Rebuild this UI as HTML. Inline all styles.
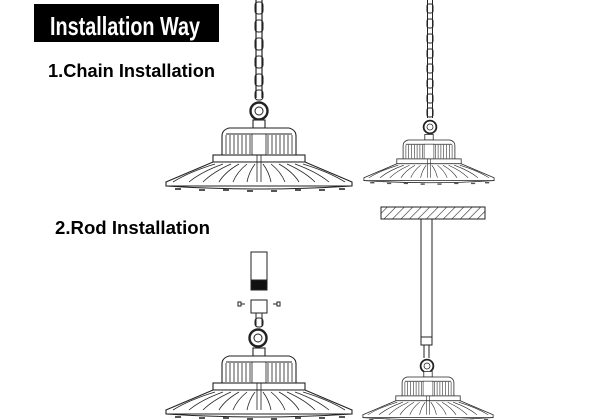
<!DOCTYPE html>
<html><head><meta charset="utf-8"><style>
html,body{margin:0;padding:0;background:#fff;width:600px;height:420px;overflow:hidden}
svg{display:block}
</style></head><body>
<svg width="600" height="420" viewBox="0 0 600 420" xmlns="http://www.w3.org/2000/svg">
<defs>
<pattern id="hatch" width="6" height="6" patternUnits="userSpaceOnUse" patternTransform="rotate(45)">
<line x1="0" y1="0" x2="0" y2="6" stroke="#222" stroke-width="1.2"/>
</pattern>
<g id="lamp" fill="#fff" stroke="#222" stroke-width="1.1">
  <rect x="-6" y="-8" width="12" height="8"/>
  <path d="M-30,0 L30,0 Q37,2 37,8 L37,27 L-37,27 L-37,8 Q-37,2 -30,0 Z"/>
  <path d="M-33,6 L33,6" />
  <g stroke-width="0.8">
    <path d="M-33,7 V26 M-29,7 V26 M-25,7 V26 M-21,7 V26 M-17,7 V26 M-13,7 V26 M-9,7 V26 M-5,7 V26 M5,7 V26 M9,7 V26 M13,7 V26 M17,7 V26 M21,7 V26 M25,7 V26 M29,7 V26 M33,7 V26"/>
    <rect x="-7" y="6" width="14" height="21"/>
  </g>
  <rect x="-46" y="27" width="92" height="7"/>
  <path d="M-46,34 L46,34 L93,54 L93,58 L-93,58 L-93,54 Z"/>
  <g stroke-width="0.8" fill="none">
    <path d="M-44,36 Q-70,44 -86,54 M-36,36 Q-58,44 -70,54 M-28,36 Q-46,44 -56,54 M-20,36 Q-34,44 -40,54 M-12,36 Q-22,44 -26,54 M-4,36 Q-10,44 -12,54 M44,36 Q70,44 86,54 M36,36 Q58,44 70,54 M28,36 Q46,44 56,54 M20,36 Q34,44 40,54 M12,36 Q22,44 26,54 M4,36 Q10,44 12,54"/>
    <path d="M-2,27 V54 M2,27 V54"/>
  </g>
  <path d="M-93,58 Q0,64 93,58" fill="none"/>
  <g fill="#555" stroke="none">
    <rect x="-84" y="60" width="6" height="2"/><rect x="-60" y="61" width="6" height="2"/><rect x="-36" y="61" width="6" height="2"/><rect x="-12" y="62" width="6" height="2"/><rect x="12" y="62" width="6" height="2"/><rect x="36" y="61" width="6" height="2"/><rect x="60" y="61" width="6" height="2"/><rect x="80" y="60" width="6" height="2"/>
  </g>
</g>
<g id="ring" fill="none" stroke="#222">
  <circle r="8.5" stroke-width="2.4"/>
  <circle r="4" stroke-width="1"/>
</g>
</defs>

<rect x="34" y="4" width="185" height="38" fill="#000"/>
<text x="50" y="35" font-family="Liberation Sans, sans-serif" font-weight="bold" font-size="26" fill="#fff" textLength="150" lengthAdjust="spacingAndGlyphs">Installation Way</text>
<text x="48" y="77" font-family="Liberation Sans, sans-serif" font-weight="bold" font-size="18" fill="#000" textLength="167" lengthAdjust="spacingAndGlyphs">1.Chain Installation</text>
<text x="55" y="234" font-family="Liberation Sans, sans-serif" font-weight="bold" font-size="18" fill="#000" textLength="155" lengthAdjust="spacingAndGlyphs">2.Rod Installation</text>

<!-- chain 1 -->
<g fill="none" stroke="#222" stroke-width="1.2">
  <path d="M256,0 V98 M262,0 V98"/>
  <g stroke-width="1">
    <rect x="255" y="2" width="8" height="12" rx="3"/><rect x="255" y="20" width="8" height="12" rx="3"/><rect x="255" y="38" width="8" height="12" rx="3"/><rect x="255" y="56" width="8" height="12" rx="3"/><rect x="255" y="74" width="8" height="12" rx="3"/><rect x="255" y="90" width="8" height="10" rx="3"/>
  </g>
</g>
<use href="#ring" x="259" y="111"/>
<use href="#lamp" x="259" y="128"/>

<!-- chain 2 -->
<g fill="none" stroke="#222" stroke-width="1">
  <path d="M427.5,0 V118 M432.5,0 V118"/>
  <rect x="427" y="4" width="6" height="9" rx="2"/><rect x="427" y="19" width="6" height="9" rx="2"/><rect x="427" y="34" width="6" height="9" rx="2"/><rect x="427" y="49" width="6" height="9" rx="2"/><rect x="427" y="64" width="6" height="9" rx="2"/><rect x="427" y="79" width="6" height="9" rx="2"/><rect x="427" y="94" width="6" height="9" rx="2"/><rect x="427" y="108" width="6" height="9" rx="2"/>
</g>
<use href="#ring" transform="translate(430,127) scale(0.75)"/>
<use href="#lamp" transform="translate(429,140) scale(0.7)"/>

<!-- rod install left -->
<g stroke="#222" fill="#fff" stroke-width="1">
  <rect x="251" y="252" width="16" height="28"/>
  <rect x="251" y="280" width="16" height="10" fill="#111"/>
  <rect x="251" y="300" width="16" height="13"/>
  <path d="M241,304 h4 M273,304 h4"/>
  <rect x="238" y="302" width="3" height="4" fill="#fff"/>
  <rect x="277" y="302" width="3" height="4" fill="#fff"/>
  <path d="M256,313 V326 M262,313 V326"/>
  <rect x="255" y="318" width="8" height="9" rx="3" fill="none"/>
</g>
<use href="#ring" x="258" y="338"/>
<use href="#lamp" x="259" y="356"/>

<!-- rod install right -->
<rect x="381" y="207" width="104" height="12" fill="url(#hatch)" stroke="#222"/>
<rect x="421" y="219" width="11" height="121" fill="#fff" stroke="#222"/>
<rect x="421" y="337" width="11" height="8" fill="#fff" stroke="#222"/>
<path d="M424,345 V358 M429,345 V358" stroke="#222" fill="none"/>
<use href="#ring" transform="translate(427,366) scale(0.75)"/>
<use href="#lamp" transform="translate(428,377) scale(0.7)"/>
</svg>
</body></html>
